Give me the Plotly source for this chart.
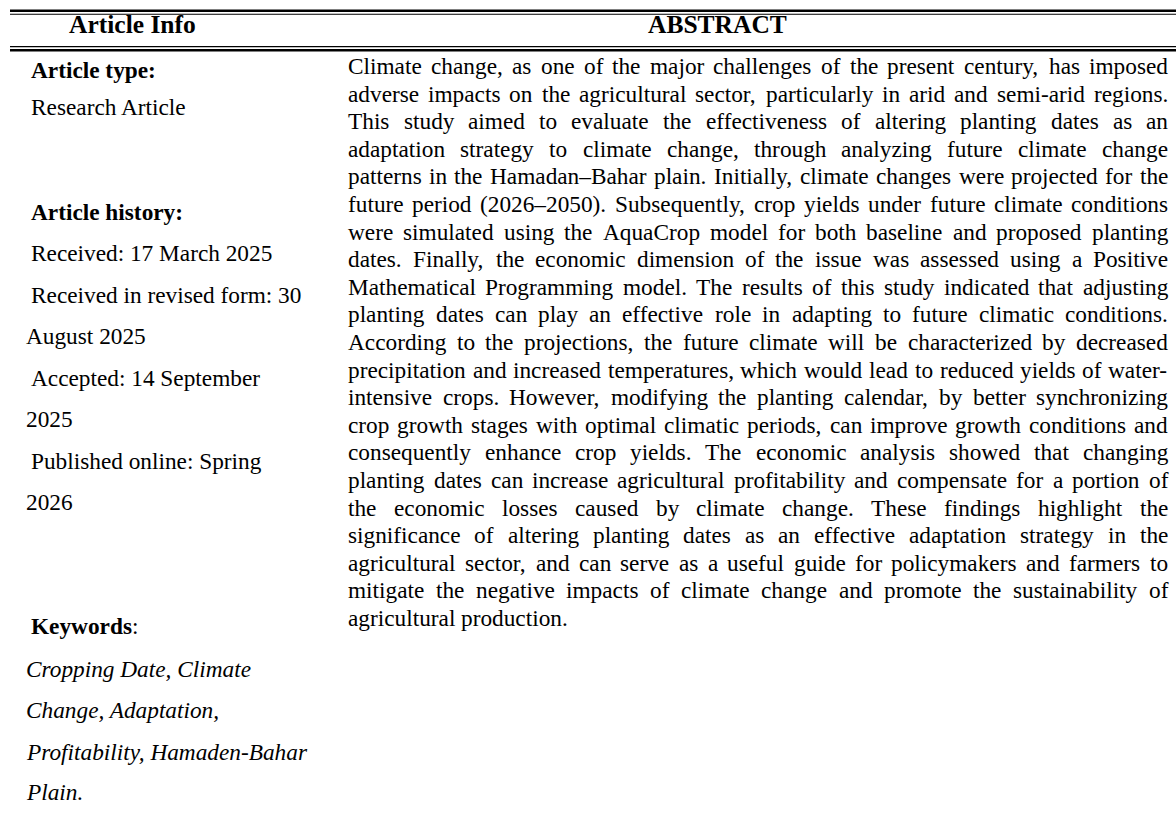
import plotly.graph_objects as go

# ---------------- data (text content) ----------------
header_left = "Article Info"
header_right = "ABSTRACT"

left_lines = [
    "<b>Article type:</b>",
    "Research Article",
    "<b>Article history:</b>",
    "Received: 17 March 2025",
    "Received in revised form: 30",
    "August 2025",
    "Accepted: 14 September",
    "2025",
    "Published online: Spring",
    "2026",
    "<b>Keywords</b>:",
    "<i>Cropping Date, Climate</i>",
    "<i>Change, Adaptation,</i>",
    "<i>Profitability, Hamaden-Bahar</i>",
    "<i>Plain.</i>",
]

abstract_lines = [
    "Climate change, as one of the major challenges of the present century, has imposed",
    "adverse impacts on the agricultural sector, particularly in arid and semi-arid regions.",
    "This study aimed to evaluate the effectiveness of altering planting dates as an",
    "adaptation strategy to climate change, through analyzing future climate change",
    "patterns in the Hamadan–Bahar plain. Initially, climate changes were projected for the",
    "future period (2026–2050). Subsequently, crop yields under future climate conditions",
    "were simulated using the AquaCrop model for both baseline and proposed planting",
    "dates. Finally, the economic dimension of the issue was assessed using a Positive",
    "Mathematical Programming model. The results of this study indicated that adjusting",
    "planting dates can play an effective role in adapting to future climatic conditions.",
    "According to the projections, the future climate will be characterized by decreased",
    "precipitation and increased temperatures, which would lead to reduced yields of water-",
    "intensive crops. However, modifying the planting calendar, by better synchronizing",
    "crop growth stages with optimal climatic periods, can improve growth conditions and",
    "consequently enhance crop yields. The economic analysis showed that changing",
    "planting dates can increase agricultural profitability and compensate for a portion of",
    "the economic losses caused by climate change. These findings highlight the",
    "significance of altering planting dates as an effective adaptation strategy in the",
    "agricultural sector, and can serve as a useful guide for policymakers and farmers to",
    "mitigate the negative impacts of climate change and promote the sustainability of",
    "agricultural production.",
]

# ---------------- layout ----------------
W, H = 1176, 815
FONT = "Liberation Serif, Times New Roman, Times, serif"
BODY = 23.3
HEAD = 25.5
INK = "#000000"

left_x = [30, 30, 30, 30, 30, 25, 30, 25, 30, 25, 30, 25, 25, 25, 25]
left_y = [70, 107, 212, 253, 295, 336, 378, 419, 461, 502, 626, 669, 710, 752, 792]

abs_x0, abs_x1 = 347, 1167
abs_y0, abs_dy = 66, 27.6

# Times metric widths (per 1000 em)
TW = {' ': 250, '(': 333, ')': 333, ',': 250, '-': 333, '.': 250, ':': 278, '–': 500}
for d in "0123456789":
    TW[d] = 500
TW.update(dict(zip("ABCDEFGHIJKLMNOPQRSTUVWXYZ",
                   [722, 667, 667, 722, 611, 556, 722, 722, 333, 389, 722, 611, 889,
                    722, 722, 556, 722, 667, 556, 611, 722, 722, 944, 722, 722, 611])))
TW.update(dict(zip("abcdefghijklmnopqrstuvwxyz",
                   [444, 500, 444, 500, 444, 333, 500, 500, 278, 278, 500, 278, 778,
                    500, 500, 500, 500, 333, 389, 278, 500, 500, 722, 500, 500, 444])))


def wwidth(word, size):
    return sum(TW.get(c, 500) for c in word) * size / 1000.0


annotations = []


def add_text(text, x, y, size=BODY, xanchor="left"):
    annotations.append(dict(
        text=text, x=x, y=y, xref="x", yref="y", showarrow=False,
        xanchor=xanchor, yanchor="middle", borderpad=0,
        font=dict(family=FONT, size=size, color=INK)))


# headers
add_text("<b>%s</b>" % header_left, 132.5, 24, size=HEAD, xanchor="center")
add_text("<b>%s</b>" % header_right, 717.5, 24, size=HEAD, xanchor="center")

# left column
for t, x, y in zip(left_lines, left_x, left_y):
    add_text(t, x, y)

# abstract, justified word by word
for i, line in enumerate(abstract_lines):
    y = abs_y0 + i * abs_dy
    words = line.split(" ")
    widths = [wwidth(w, BODY) for w in words]
    last = (i == len(abstract_lines) - 1)
    if last or len(words) == 1:
        gap = wwidth(" ", BODY)
    else:
        gap = (abs_x1 - abs_x0 - sum(widths)) / (len(words) - 1)
    x = abs_x0
    for w, wd in zip(words, widths):
        add_text(w, x, y)
        x += wd + gap

# rule lines (double borders)
shapes = []
for yy, lw in [(10.8, 2.6), (14.2, 1.1), (46.6, 1.1), (50.2, 2.6)]:
    shapes.append(dict(type="line", xref="x", yref="y", x0=10, x1=W, y0=yy, y1=yy,
                       line=dict(color=INK, width=lw)))

fig = go.Figure()
fig.update_layout(
    width=W, height=H,
    margin=dict(l=0, r=0, t=0, b=0),
    paper_bgcolor="white", plot_bgcolor="white",
    xaxis=dict(range=[0, W], visible=False, fixedrange=True),
    yaxis=dict(range=[H, 0], visible=False, fixedrange=True),
    annotations=annotations, shapes=shapes, showlegend=False,
)

fig.write_html("out.html", config={"staticPlot": True},
               post_script="document.body.style.margin='0';document.body.style.overflow='hidden';")
